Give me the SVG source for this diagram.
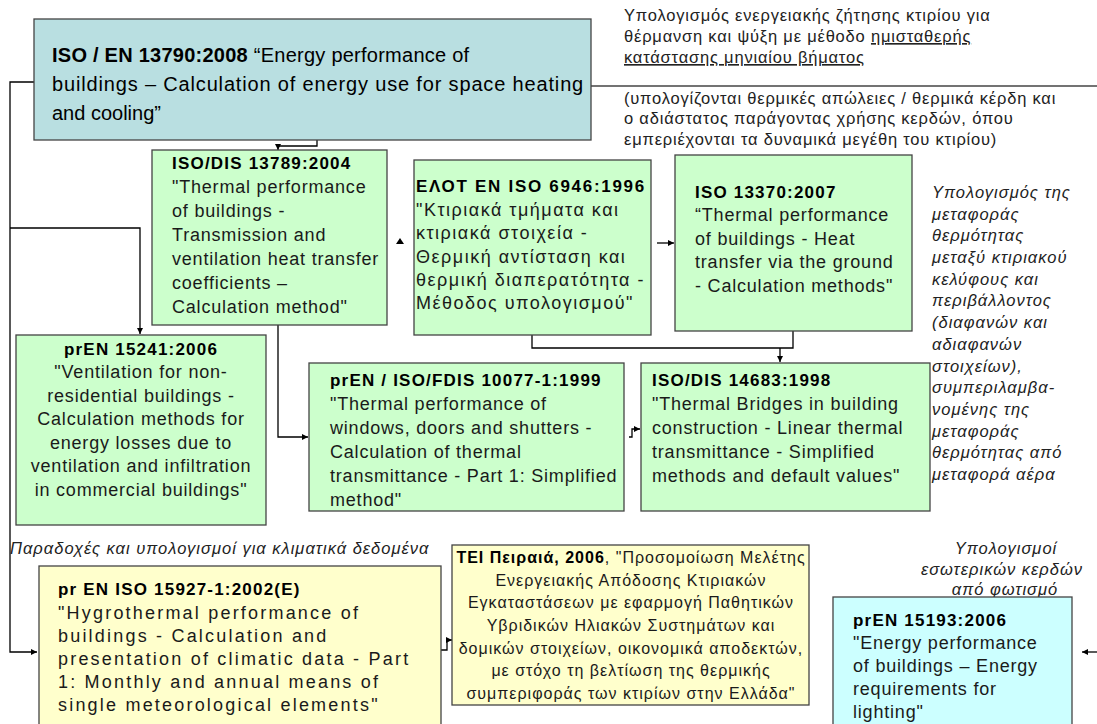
<svg xmlns="http://www.w3.org/2000/svg" width="1097" height="724" viewBox="0 0 1097 724">
<defs>
<marker id="ah" viewBox="0 0 10 10" refX="10" refY="5" markerWidth="6" markerHeight="6" orient="auto" markerUnits="userSpaceOnUse"><path d="M0,0 L10,5 L0,10 z" fill="#000"/></marker>
</defs>
<style>
text{font-family:"Liberation Sans",Arial,sans-serif;fill:#1a1a1a}
.box{stroke:#444;stroke-width:1.3}
.g{fill:#ccffcc}.y{fill:#ffffcc}.c{fill:#ccffff}.t{fill:#b9dfe1}
.b{font-size:18px;letter-spacing:0.8px}
.h{font-size:17px;font-weight:bold;letter-spacing:1.2px;fill:#000}
.n{font-size:16.5px;letter-spacing:0.8px;fill:#222}
.i{font-size:16.5px;font-style:italic;letter-spacing:1px;fill:#222}
.m{font-size:20px;fill:#000}
.conn{fill:none;stroke:#000;stroke-width:1.3}
</style>
<rect width="1097" height="724" fill="#fff"/>

<g id="connectors">
<path class="conn" d="M34,82 H10 V652 H37" marker-end="url(#ah)"/>
<path class="conn" d="M10,228 H140 V334" marker-end="url(#ah)"/>
<path class="conn" d="M317,140 V146 H278 V150" marker-end="url(#ah)"/>
<path d="M396,244 L404,244 L400,238 z" fill="#000"/>
<path class="conn" d="M657,243 H674" marker-end="url(#ah)"/>
<path class="conn" d="M532,335 V348 H793 V331"/>
<path class="conn" d="M780,348 V362" marker-end="url(#ah)"/>
<path class="conn" d="M278,325 V437 H308" marker-end="url(#ah)"/>
<path class="conn" d="M629,437 H632 V429 H640" marker-end="url(#ah)"/>
<path class="conn" d="M441,650 H447 V640 H452" marker-end="url(#ah)"/>
<path class="conn" d="M1097,652 H1082" marker-end="url(#ah)"/>
<path d="M591,86 H1097" stroke="#444" stroke-width="1.3"/>
</g>

<g id="main">
<rect class="box t" x="34" y="19" width="557" height="121"/>
<text class="m" x="52" y="62" letter-spacing="0.25"><tspan font-weight="bold">ISO / EN 13790:2008</tspan> “Energy performance of</text>
<text class="m" x="52" y="91" letter-spacing="0.84">buildings – Calculation of energy use for space heating</text>
<text class="m" x="52" y="120">and cooling”</text>
</g>

<g id="note-top">
<text class="n" x="624" y="21">Υπολογισμός ενεργειακής ζήτησης κτιρίου για</text>
<text class="n" x="624" y="42">θέρμανση και ψύξη με μέθοδο <tspan text-decoration="underline">ημισταθερής</tspan></text>
<text class="n" x="624" y="63" text-decoration="underline">κατάστασης μηνιαίου βήματος</text>
<text class="n" x="624" y="104">(υπολογίζονται θερμικές απώλειες / θερμικά κέρδη και</text>
<text class="n" x="624" y="124">ο αδιάστατος παράγοντας χρήσης κερδών, όπου</text>
<text class="n" x="624" y="145">εμπεριέχονται τα δυναμικά μεγέθη του κτιρίου)</text>
</g>

<g id="iso13789">
<rect class="box g" x="152" y="150" width="235" height="175"/>
<text class="h" x="172" y="169">ISO/DIS 13789:2004</text>
<text class="b" x="172" y="193">"Thermal performance</text>
<text class="b" x="172" y="217">of buildings -</text>
<text class="b" x="172" y="241">Transmission and</text>
<text class="b" x="172" y="265">ventilation heat transfer</text>
<text class="b" x="172" y="289">coefficients –</text>
<text class="b" x="172" y="313">Calculation method"</text>
</g>

<g id="elot6946">
<rect class="box g" x="414" y="160" width="237" height="175"/>
<text class="h" x="416" y="192" style="letter-spacing:1.7px">ΕΛΟΤ ΕΝ ISO 6946:1996</text>
<text class="b" x="416" y="216" style="letter-spacing:1.5px">"Κτιριακά τμήματα και</text>
<text class="b" x="416" y="239" style="letter-spacing:1.5px">κτιριακά στοιχεία -</text>
<text class="b" x="416" y="263" style="letter-spacing:1.5px">Θερμική αντίσταση και</text>
<text class="b" x="416" y="286" style="letter-spacing:1.5px">θερμική διαπερατότητα -</text>
<text class="b" x="416" y="309" style="letter-spacing:1.5px">Μέθοδος υπολογισμού"</text>
</g>

<g id="iso13370">
<rect class="box g" x="675" y="155" width="237" height="176"/>
<text class="h" x="695" y="198">ISO 13370:2007</text>
<text class="b" x="695" y="221">“Thermal performance</text>
<text class="b" x="695" y="245">of buildings - Heat</text>
<text class="b" x="695" y="268">transfer via the ground</text>
<text class="b" x="695" y="292">- Calculation methods"</text>
</g>

<g id="note-right">
<text class="i" x="932" y="198">Υπολογισμός της</text>
<text class="i" x="932" y="220">μεταφοράς</text>
<text class="i" x="932" y="241">θερμότητας</text>
<text class="i" x="932" y="263">μεταξύ κτιριακού</text>
<text class="i" x="932" y="285">κελύφους και</text>
<text class="i" x="932" y="306">περιβάλλοντος</text>
<text class="i" x="932" y="328">(διαφανών και</text>
<text class="i" x="932" y="350">αδιαφανών</text>
<text class="i" x="932" y="372">στοιχείων),</text>
<text class="i" x="932" y="393">συμπεριλαμβα-</text>
<text class="i" x="932" y="415">νομένης της</text>
<text class="i" x="932" y="437">μεταφοράς</text>
<text class="i" x="932" y="458">θερμότητας από</text>
<text class="i" x="932" y="480">μεταφορά αέρα</text>
</g>

<g id="pren15241">
<rect class="box g" x="16" y="335" width="250" height="190"/>
<text class="h" x="141" y="355" text-anchor="middle">prEN 15241:2006</text>
<text class="b" x="141" y="378" text-anchor="middle">"Ventilation for non-</text>
<text class="b" x="141" y="402" text-anchor="middle">residential buildings -</text>
<text class="b" x="141" y="425" text-anchor="middle">Calculation methods for</text>
<text class="b" x="141" y="449" text-anchor="middle">energy losses due to</text>
<text class="b" x="141" y="472" text-anchor="middle">ventilation and infiltration</text>
<text class="b" x="141" y="496" text-anchor="middle">in commercial buildings"</text>
</g>

<g id="iso10077">
<rect class="box g" x="309" y="363" width="315" height="148"/>
<text class="h" x="330" y="386">prEN / ISO/FDIS 10077-1:1999</text>
<text class="b" x="330" y="410">"Thermal performance of</text>
<text class="b" x="330" y="434">windows, doors and shutters -</text>
<text class="b" x="330" y="458">Calculation of thermal</text>
<text class="b" x="330" y="482">transmittance - Part 1: Simplified</text>
<text class="b" x="330" y="506">method"</text>
</g>

<g id="iso14683">
<rect class="box g" x="641" y="363" width="289" height="148"/>
<text class="h" x="652" y="386">ISO/DIS 14683:1998</text>
<text class="b" x="652" y="410">"Thermal Bridges in building</text>
<text class="b" x="652" y="434">construction - Linear thermal</text>
<text class="b" x="652" y="458">transmittance - Simplified</text>
<text class="b" x="652" y="482">methods and default values"</text>
</g>

<g id="note-climate">
<text class="i" x="10" y="554" style="letter-spacing:1px">Παραδοχές και υπολογισμοί για κλιματικά δεδομένα</text>
</g>

<g id="pren15927">
<rect class="box y" x="39" y="566" width="402" height="170"/>
<text class="h" x="58" y="595">pr EN ISO 15927-1:2002(E)</text>
<text class="b" x="58" y="619" style="letter-spacing:2.2px">"Hygrothermal performance of</text>
<text class="b" x="58" y="642" style="letter-spacing:2.2px">buildings - Calculation and</text>
<text class="b" x="58" y="665" style="letter-spacing:2.2px">presentation of climatic data - Part</text>
<text class="b" x="58" y="688" style="letter-spacing:2.2px">1: Monthly and annual means of</text>
<text class="b" x="58" y="711" style="letter-spacing:2.2px">single meteorological elements"</text>
</g>

<g id="tei">
<rect class="box y" x="452" y="545" width="357" height="160"/>
<g style="font-size:16px;letter-spacing:1px" text-anchor="middle">
<text x="631" y="563"><tspan font-weight="bold" fill="#000">ΤΕΙ Πειραιά, 2006</tspan>, "Προσομοίωση Μελέτης</text>
<text x="631" y="586">Ενεργειακής Απόδοσης Κτιριακών</text>
<text x="631" y="608">Εγκαταστάσεων με εφαρμογή Παθητικών</text>
<text x="631" y="631">Υβριδικών Ηλιακών Συστημάτων και</text>
<text x="631" y="654">δομικών στοιχείων, οικονομικά αποδεκτών,</text>
<text x="631" y="676">με στόχο τη βελτίωση της θερμικής</text>
<text x="631" y="699">συμπεριφοράς των κτιρίων στην Ελλάδα"</text>
</g>
</g>

<g id="note-lighting">
<text class="i" x="1006" y="554" text-anchor="middle">Υπολογισμοί</text>
<text class="i" x="1002" y="575" text-anchor="middle">εσωτερικών κερδών</text>
<text class="i" x="1005" y="595" text-anchor="middle">από φωτισμό</text>
</g>

<g id="pren15193">
<rect class="box c" x="833" y="597" width="239" height="140"/>
<text class="h" x="853" y="626">prEN 15193:2006</text>
<text class="b" x="853" y="649">"Energy performance</text>
<text class="b" x="853" y="672">of buildings – Energy</text>
<text class="b" x="853" y="695">requirements for</text>
<text class="b" x="853" y="718">lighting"</text>
</g>
</svg>
